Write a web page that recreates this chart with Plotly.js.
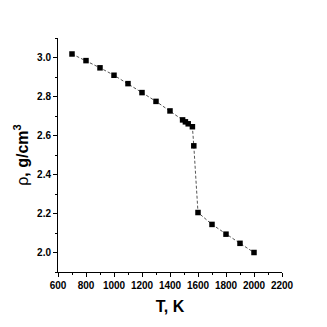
<!DOCTYPE html>
<html><head><meta charset="utf-8">
<script src="https://cdn.plot.ly/plotly-3.0.1.min.js"></script>
<style>html,body{margin:0;padding:0;background:#fff;}#chart{width:327px;height:327px;}</style>
</head><body><div id="chart"></div>
<script>
var temperature = [700, 800, 900, 1000, 1100, 1200, 1300, 1400, 1490, 1510, 1530, 1560, 1570, 1600, 1700, 1800, 1900, 2000];
var density = [3.018, 2.984, 2.947, 2.909, 2.866, 2.82, 2.775, 2.726, 2.68, 2.67, 2.66, 2.645, 2.547, 2.205, 2.144, 2.094, 2.047, 2.0];

var trace = {
  x: temperature, y: density, type: 'scatter', mode: 'lines+markers',
  line: {color: '#555', width: 1, dash: '3px,2px'},
  marker: {symbol: 'square', size: 5.5, color: '#000'}
};
var fontTick = {family: 'Liberation Sans Narrow, Arial Narrow, Liberation Sans, Arial', size: 10, color: '#000', weight: 'bold'};
var layout = {
  width: 327, height: 327,
  margin: {l: 58, r: 45, t: 38, b: 55},
  paper_bgcolor: '#fff', plot_bgcolor: '#fff',
  showlegend: false,
  xaxis: {
    range: [600, 2200], tickvals: [600,800,1000,1200,1400,1600,1800,2000,2200],
    ticks: 'outside', ticklen: 4, tickwidth: 1, tickcolor: '#000',
    minor: {dtick: 100, ticks: 'outside', ticklen: 2, tickcolor: '#000'},
    showline: true, linecolor: '#000', linewidth: 1, showgrid: false, zeroline: false,
    tickfont: fontTick,
    title: {text: 'T, K', font: {family: 'Liberation Sans, Arial', size: 16, color: '#000', weight: 'bold'}, standoff: 10}
  },
  yaxis: {
    range: [1.9, 3.1], tickvals: [2.0, 2.2, 2.4, 2.6, 2.8, 3.0], ticktext: ['2.0','2.2','2.4','2.6','2.8','3.0'],
    ticks: 'outside', ticklen: 4, tickwidth: 1, tickcolor: '#000',
    minor: {dtick: 0.1, ticks: 'outside', ticklen: 2, tickcolor: '#000'},
    showline: true, linecolor: '#000', linewidth: 1, showgrid: false, zeroline: false,
    tickfont: fontTick,
    title: {text: '<span style="font-weight:normal">ρ</span>, g/cm<sup>3</sup>', font: {family: 'Liberation Sans, Arial', size: 16, color: '#000', weight: 'bold'}, standoff: 4}
  }
};
Plotly.newPlot('chart', [trace], layout, {displayModeBar: false, staticPlot: true});
</script>
</body></html>
